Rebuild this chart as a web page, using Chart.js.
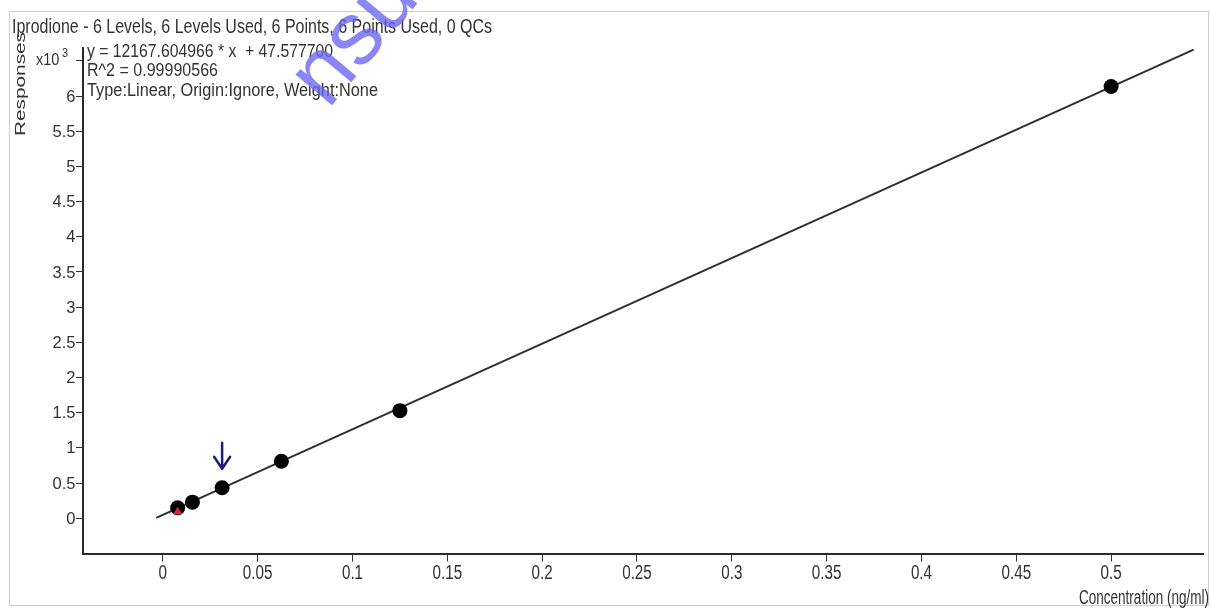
<!DOCTYPE html>
<html>
<head>
<meta charset="utf-8">
<script src="https://cdn.jsdelivr.net/npm/chart.js@4/dist/chart.umd.min.js"></script>
<style>
  html, body { margin: 0; padding: 0; background: #ffffff; }
  canvas { display: block; }
</style>
</head>
<body>
<canvas id="cal" width="1211" height="608"></canvas>
<script>
// Calibration standards (concentration in ng/ml, response in counts)
const concentration = [0.0078, 0.0156, 0.03125, 0.0625, 0.125, 0.5];
const response = [150, 230, 435, 810, 1530, 6135];

// Flagged replicate at the lowest level
const flaggedConc = [0.0078];
const flaggedResp = [95];

// Fitted calibration line: y = slope * x + intercept
const slope = 12167.604966;
const intercept = 47.5777;
const fitRange = [-0.0035, 0.5435];

// Axis ticks
const xTicks = [0, 0.05, 0.1, 0.15, 0.2, 0.25, 0.3, 0.35, 0.4, 0.45, 0.5];
const xTickLabels = ['0', '0.05', '0.1', '0.15', '0.2', '0.25', '0.3', '0.35', '0.4', '0.45', '0.5'];
const yTicks = [0, 500, 1000, 1500, 2000, 2500, 3000, 3500, 4000, 4500, 5000, 5500, 6000, 6500];
const yTickLabels = ['0', '0.5', '1', '1.5', '2', '2.5', '3', '3.5', '4', '4.5', '5', '5.5', '6', ''];

const titleText = 'Iprodione - 6 Levels, 6 Levels Used, 6 Points, 6 Points Used, 0 QCs';
const fitLines = [
  'y = 12167.604966 * x  + 47.577700',
  'R^2 = 0.99990566',
  'Type:Linear, Origin:Ignore, Weight:None'
];

const FONT = '"Liberation Sans", Arial, sans-serif';
const TEXT = '#333333';

// draw text squeezed horizontally to a given width
function fitText(ctx, text, x, y, size, width, align) {
  ctx.save();
  ctx.font = size + 'px ' + FONT;
  const w = ctx.measureText(text).width;
  const sx = width ? width / w : 1;
  ctx.translate(x, y);
  ctx.scale(sx, 1);
  ctx.textAlign = align || 'left';
  ctx.textBaseline = 'alphabetic';
  ctx.fillText(text, 0, 0);
  ctx.restore();
}

function scaledText(ctx, text, x, y, size, sx, align) {
  ctx.save();
  ctx.font = size + 'px ' + FONT;
  ctx.translate(x, y);
  ctx.scale(sx, 1);
  ctx.textAlign = align || 'left';
  ctx.textBaseline = 'alphabetic';
  ctx.fillText(text, 0, 0);
  ctx.restore();
}

const decor = {
  id: 'decor',
  beforeDraw(chart) {
    const ctx = chart.ctx;
    ctx.save();
    ctx.fillStyle = '#ffffff';
    ctx.fillRect(0, 0, chart.width, chart.height);
    ctx.restore();
  },
  afterDraw(chart) {
    const ctx = chart.ctx;
    const xs = chart.scales.x, ys = chart.scales.y;
    ctx.save();

    // outer frame
    ctx.strokeStyle = '#cdcdcd';
    ctx.lineWidth = 1;
    ctx.strokeRect(9.5, 11.5, 1199, 594);

    ctx.fillStyle = TEXT;
    // heading
    fitText(ctx, titleText, 12, 33, 21, 480, 'left');
    // fit summary
    fitText(ctx, fitLines[0], 87, 56.5, 18, 246, 'left');
    fitText(ctx, fitLines[1], 87, 76, 18, 131, 'left');
    fitText(ctx, fitLines[2], 87, 96, 18, 291, 'left');

    // y tick labels
    ctx.font = '16.5px ' + FONT;
    ctx.textAlign = 'right';
    ctx.textBaseline = 'middle';
    yTicks.forEach((v, i) => {
      if (!yTickLabels[i]) return;
      ctx.fillText(yTickLabels[i], 75.5, ys.getPixelForValue(v) + 1);
    });
    // exponent marker on the top tick
    const ey = ys.getPixelForValue(yTicks[yTicks.length - 1]);
    ctx.textAlign = 'left';
    ctx.textBaseline = 'alphabetic';
    scaledText(ctx, 'x10', 36, ey + 4.5, 17, 0.85, 'left');
    scaledText(ctx, '3', 62, ey - 3.5, 12, 0.9, 'left');

    // x tick labels
    xTicks.forEach((v, i) => {
      scaledText(ctx, xTickLabels[i], xs.getPixelForValue(v), 579, 19.5, 0.78, 'center');
    });

    // axis titles
    fitText(ctx, 'Concentration (ng/ml)', 1209, 604, 20, 130, 'right');
    ctx.save();
    ctx.translate(25, 84);
    ctx.rotate(-Math.PI / 2);
    fitText(ctx, 'Responses', 0, 0, 14.5, 104, 'center');
    ctx.restore();

    // marker arrow above the third standard
    const ax = xs.getPixelForValue(concentration[2]);
    const ay = ys.getPixelForValue(response[2]);
    ctx.strokeStyle = '#1d1d7c';
    ctx.lineWidth = 2.5;
    ctx.lineCap = 'round';
    ctx.lineJoin = 'round';
    ctx.beginPath();
    ctx.moveTo(ax, ay - 45);
    ctx.lineTo(ax, ay - 19);
    ctx.moveTo(ax - 8, ay - 31);
    ctx.lineTo(ax, ay - 19);
    ctx.lineTo(ax + 8, ay - 31);
    ctx.stroke();

    // watermark
    ctx.save();
    ctx.translate(328, 110);
    ctx.rotate(-50 * Math.PI / 180);
    ctx.font = '90px ' + FONT;
    ctx.fillStyle = 'rgba(105, 100, 240, 0.78)';
    ctx.textAlign = 'left';
    ctx.textBaseline = 'alphabetic';
    ctx.fillText('nsu', 0, 0);
    ctx.restore();

    ctx.restore();
  }
};

new Chart(document.getElementById('cal'), {
  type: 'scatter',
  data: {
    datasets: [
      {
        label: 'fit',
        data: fitRange.map(x => ({ x: x, y: slope * x + intercept })),
        showLine: true,
        borderColor: '#2e2e2e',
        borderWidth: 2,
        pointRadius: 0,
        order: 3
      },
      {
        label: 'standards',
        data: concentration.map((x, i) => ({ x: x, y: response[i] })),
        pointRadius: 7.5,
        pointBackgroundColor: '#000000',
        pointBorderWidth: 0,
        order: 2
      },
      {
        label: 'flagged',
        data: flaggedConc.map((x, i) => ({ x: x, y: flaggedResp[i] })),
        pointStyle: 'triangle',
        pointRadius: 5,
        pointBackgroundColor: '#e3243c',
        pointBorderWidth: 0,
        order: 1
      }
    ]
  },
  options: {
    responsive: false,
    animation: false,
    events: [],
    layout: { padding: { left: 0, top: 47.5, right: 2.5, bottom: 0 } },
    plugins: { legend: { display: false }, tooltip: { enabled: false } },
    scales: {
      x: {
        type: 'linear',
        min: -0.0421,
        max: 0.5487,
        afterBuildTicks: s => { s.ticks = xTicks.map(v => ({ value: v })); },
        afterFit: s => { s.height = 54.5; },
        ticks: { display: false },
        grid: { drawOnChartArea: false, drawTicks: true, tickLength: 8, color: '#333333', lineWidth: 1 },
        border: { display: true, color: '#2a2a2a', width: 2 }
      },
      y: {
        type: 'linear',
        min: -500,
        max: 6690,
        afterBuildTicks: s => { s.ticks = yTicks.map(v => ({ value: v })); },
        afterFit: s => { s.width = 83; },
        ticks: { display: false },
        grid: { drawOnChartArea: false, drawTicks: true, tickLength: 7, color: '#333333', lineWidth: 1 },
        border: { display: true, color: '#2a2a2a', width: 2 }
      }
    }
  },
  plugins: [decor]
});
</script>
</body>
</html>
